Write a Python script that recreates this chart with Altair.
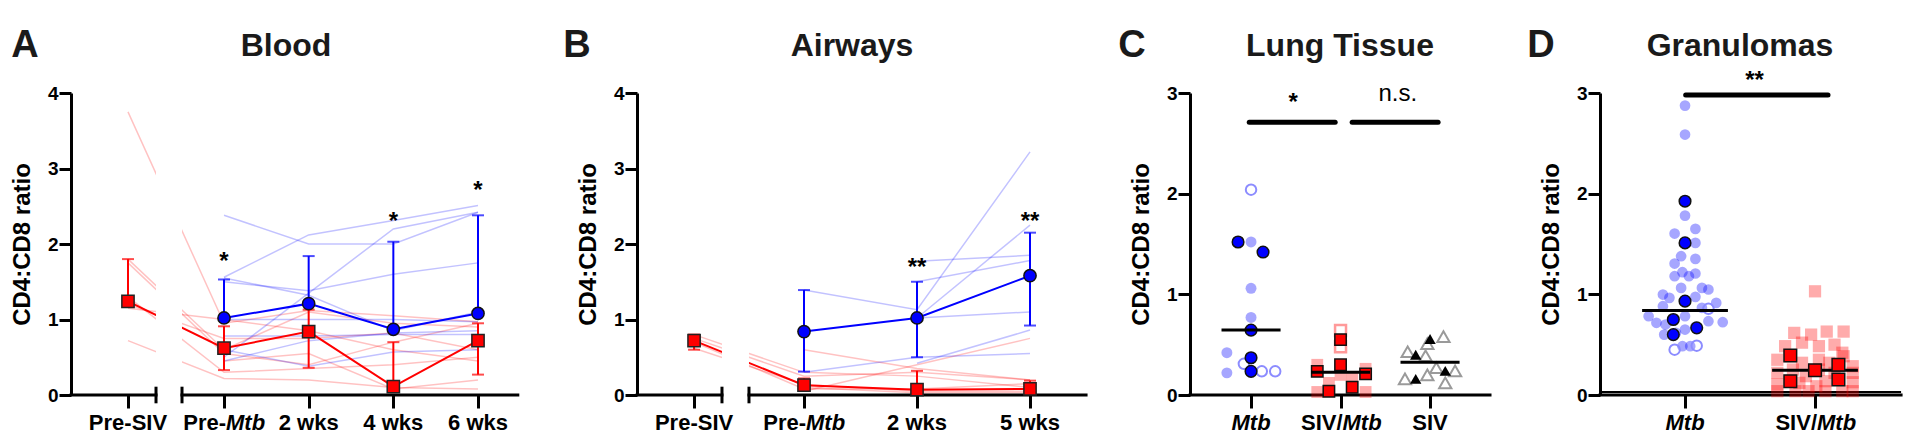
import altair as alt
import pandas as pd

FONT = "Liberation Sans"
BLUE = "#0000ff"
RED = "#ff0000"
PLOT_H = 302

# ---------------- Panel A : Blood ----------------
A_labels_plain = ["Pre-SIV", "Pre-", "2 wks", "4 wks", "6 wks"]
A_labels_ital = ["", "Mtb", "", "", ""]
A_red_ind = [
    [3.75, 0.95, 1.12, 1.05, 0.97],
    [1.80, 0.60, 1.10, 0.95, 0.90],
    [1.75, 0.55, 0.40, 0.70, 0.95],
    [1.20, 0.75, 0.75, 0.82, 0.60],
    [1.15, 1.00, 0.85, 0.60, 0.45],
    [0.72, 0.22, 0.20, 0.10, 0.08],
    [1.30, 0.30, 0.35, 0.40, 0.50],
    [None, 0.45, 0.55, 0.08, 0.20],
]
A_blue_ind = [
    [None, 2.38, 2.00, 2.00, 2.42],
    [None, 1.56, 2.12, 2.31, 2.51],
    [None, 0.50, 1.35, 2.20, 2.42],
    [None, 1.50, 1.38, 1.60, 1.75],
    [None, 1.55, 1.32, 0.85, 1.10],
    [None, 1.00, 1.00, 1.00, 0.97],
    [None, 0.78, 0.78, 0.80, 0.80],
    [None, 0.60, 0.38, 0.57, 0.60],
    [None, 0.45, 0.72, 0.82, 0.85],
]
A_red_mean = [1.24, 0.62, 0.84, 0.11, 0.72]
A_red_lo = [None, 0.33, 0.36, None, 0.27]
A_red_hi = [1.80, 0.91, 1.13, 0.70, 0.95]
A_blue_mean = [None, 1.02, 1.21, 0.87, 1.08]
A_blue_lo = [None, None, None, None, None]
A_blue_hi = [None, 1.53, 1.84, 2.03, 2.38]
A_star_text = ["", "*", "", "*", "*"]
A_star_y = [None, 1.85, None, 2.38, 2.79]

# ---------------- Panel B : Airways ----------------
B_labels_plain = ["Pre-SIV", "Pre-", "2 wks", "5 wks"]
B_labels_ital = ["", "Mtb", "", ""]
B_red_ind = [
    [0.80, 0.30, 0.25, 0.10],
    [0.75, 0.25, 0.30, 0.20],
    [0.62, 0.14, 0.05, 0.05],
    [None, 0.60, 0.35, 0.20],
    [None, 0.05, 0.40, 0.75],
    [None, 0.10, 0.03, 0.03],
    [0.70, 0.08, 0.08, 0.15],
]
B_blue_ind = [
    [None, 1.39, 1.13, 3.22],
    [None, 0.30, 0.50, 0.55],
    [None, None, 1.02, 2.25],
    [None, None, 1.77, 1.85],
    [None, None, 1.50, 1.78],
    [None, None, 1.02, 1.10],
    [None, None, 0.42, 0.86],
]
B_red_mean = [0.72, 0.13, 0.07, 0.08]
B_red_lo = [0.60, None, None, None]
B_red_hi = [0.80, 0.22, 0.32, 0.19]
B_blue_mean = [None, 0.84, 1.02, 1.58]
B_blue_lo = [None, 0.31, 0.50, 0.92]
B_blue_hi = [None, 1.39, 1.50, 2.15]
B_star_text = ["", "", "**", "**"]
B_star_y = [None, None, 1.77, 2.38]

# ---------------- Panel C : Lung Tissue ----------------
C_labels_plain = ["", "SIV/", "SIV"]
C_labels_ital = ["Mtb", "Mtb", ""]
# (category index, horizontal jitter in category steps, value)
C_blue_dark = [(0, -0.145, 1.52), (0, 0.134, 1.42), (0, 0, 0.645), (0, 0, 0.37), (0, 0, 0.235)]
C_blue_light = [(0, 0, 1.52), (0, 0, 1.06), (0, 0, 0.77), (0, -0.27, 0.42), (0, -0.27, 0.22)]
C_blue_open = [(0, 0, 2.04), (0, -0.08, 0.31), (0, 0.12, 0.235), (0, 0.27, 0.235)]
C_red_dark = [(1, 0, 0.55), (1, 0, 0.30), (1, -0.26, 0.235), (1, 0.28, 0.21), (1, 0.13, 0.077), (1, -0.13, 0.037)]
C_red_light = [(1, -0.26, 0.30), (1, -0.26, 0.03), (1, 0.28, 0.03), (1, 0, 0.20), (1, 0.13, 0.17),
               (1, -0.13, 0.12), (1, 0.28, 0.26)]
C_red_open = [(1, 0, 0.64), (1, 0, 0.48)]
C_tri_dark = [(2, 0, 0.556), (2, -0.16, 0.40), (2, 0.17, 0.24), (2, -0.16, 0.16)]
C_tri_open = [(2, 0.15, 0.58), (2, -0.03, 0.51), (2, -0.25, 0.43), (2, -0.05, 0.39), (2, 0.07, 0.27),
              (2, 0.28, 0.24), (2, -0.28, 0.16), (2, -0.03, 0.20), (2, 0.17, 0.12)]
C_medians = [0.645, 0.225, 0.325]
C_sig_x1 = [-0.02, 1.13]
C_sig_x2 = [0.94, 2.09]
C_sig_y = [2.71, 2.71]
C_star_text = ["*"]
C_star_x = [0.47]
C_star_y = [2.97]
C_ns_text = ["n.s."]
C_ns_x = [1.64]
C_ns_y = [2.92]

# ---------------- Panel D : Granulomas ----------------
D_labels_plain = ["", "SIV/"]
D_labels_ital = ["Mtb", "Mtb"]
D_blue_light = [
    (0, 0, 2.875), (0, 0, 2.587), (0, 0, 1.782), (0, 0.08, 1.65), (0, -0.08, 1.604), (0, 0.08, 1.511),
    (0, -0.03, 1.379), (0, 0.08, 1.352), (0, -0.08, 1.306), (0, -0.02, 1.22), (0, 0.08, 1.207),
    (0, -0.08, 1.18), (0, 0.03, 1.18), (0, -0.03, 1.064), (0, 0.13, 1.064), (0, 0.18, 1.048),
    (0, -0.17, 0.998), (0, -0.12, 0.965), (0, 0.08, 0.975), (0, 0.24, 0.915), (0, -0.17, 0.882),
    (0, 0.13, 0.866), (0, -0.28, 0.783), (0, 0.29, 0.723), (0, -0.22, 0.717), (0, -0.15, 0.70),
    (0, 0, 0.783), (0, 0.18, 0.733), (0, 0.08, 0.677), (0, 0, 0.65), (0, -0.07, 0.617),
    (0, -0.16, 0.60), (0, -0.02, 0.485), (0, 0.04, 0.485),
]
D_blue_open = [(0, -0.08, 0.45), (0, 0.09, 0.49), (0, 0.18, 0.856)]
D_blue_dark = [(0, 0, 1.925), (0, 0, 1.511), (0, 0, 0.932), (0, -0.09, 0.75), (0, 0.09, 0.667), (0, -0.09, 0.60)]
D_red_light = [
    (1, 0, 1.03), (1, -0.16, 0.617), (1, -0.03, 0.60), (1, 0.09, 0.63), (1, 0.22, 0.63),
    (1, -0.23, 0.485), (1, -0.10, 0.52), (1, 0.03, 0.485), (1, 0.15, 0.50), (1, 0.21, 0.42),
    (1, -0.29, 0.35), (1, -0.19, 0.385), (1, -0.10, 0.32), (1, 0.03, 0.35), (1, 0.11, 0.32),
    (1, 0.22, 0.385), (1, 0.29, 0.286), (1, -0.29, 0.22), (1, -0.17, 0.253), (1, -0.07, 0.187),
    (1, 0.03, 0.253), (1, 0.15, 0.22), (1, 0.29, 0.22), (1, -0.29, 0.104), (1, -0.12, 0.121),
    (1, 0.01, 0.087), (1, 0.08, 0.137), (1, 0.29, 0.127), (1, -0.29, 0.038), (1, -0.15, 0.038),
    (1, -0.05, 0.038), (1, 0.08, 0.038), (1, 0.21, 0.038), (1, 0.29, 0.038),
]
D_red_dark = [(1, -0.19, 0.392), (1, 0, 0.246), (1, 0.18, 0.30), (1, -0.19, 0.137), (1, 0.18, 0.154)]
D_medians = [0.84, 0.245]
D_sig_x1 = [0.005]
D_sig_x2 = [1.10]
D_sig_y = [2.98]
D_star_text = ["**"]
D_star_x = [0.535]
D_star_y = [3.19]

# ---------------- layout (positions in category steps, pixels per step) ----------------
A_LAY = dict(xpos=[-1.134, 0, 1, 2, 3], step=84.67, xmin=-1.807, brk=(-0.803, -0.496), xend=3.47,
             width=462, title="Blood", title_px=215, letter="A", letter_px=-46)
B_LAY = dict(xpos=[-0.973, 0, 1, 2], step=113.0, xmin=-1.478, brk=(-0.726, -0.487), xend=2.496,
             width=449, title="Airways", title_px=215, letter="B", letter_px=-60)
C_LAY = dict(xpos=[0, 1, 2], step=89.5, xmin=-0.682, xend=2.670, width=306,
             title="Lung Tissue", title_px=150, letter="C", letter_px=-58)
D_LAY = dict(xpos=[0, 1], step=130.0, xmin=-0.654, xend=1.662, width=301,
             title="Granulomas", title_px=140, letter="D", letter_px=-59)
LABEL_Y = PLOT_H + 35
HALF_MED = 0.33


def y_axis(vals):
    return alt.Axis(values=vals, domain=True, domainColor="black", domainWidth=3,
                    ticks=True, tickSize=12, tickWidth=3, tickColor="black",
                    labels=True, labelFont=FONT, labelFontSize=19, labelFontWeight="bold",
                    labelColor="black", labelPadding=1, labelFlush=False, labelOverlap=False,
                    grid=False, title="CD4:CD8 ratio", titleFont=FONT, titleFontSize=24,
                    titleFontWeight="bold", titleColor="black", titleX=-42, titleY=PLOT_H / 2,
                    titleAngle=270, titleAlign="center", titleBaseline="alphabetic")


def x_axis(vals):
    return alt.Axis(values=vals, labels=False, domain=False, ticks=True, tickSize=13,
                    tickWidth=3, tickColor="black", grid=False, title=None)


def make_encoders(lay, ymax, yvals):
    xs = alt.Scale(domain=[lay["xmin"], lay["xmin"] + lay["width"] / lay["step"]], nice=False, zero=False)
    ys = alt.Scale(domain=[0, ymax], nice=False, zero=False)
    xax = x_axis(lay["xpos"])
    yax = y_axis(yvals)

    def X(f):
        return alt.X(f, type="quantitative", scale=xs, axis=xax)

    def Y(f):
        return alt.Y(f, type="quantitative", scale=ys, axis=yax)
    return X, Y


def label_layers(pos, plain, ital, X):
    layers = []
    base = dict(font=FONT, fontSize=22, fontWeight="bold", color="black", baseline="alphabetic")
    rc = [{"x": p, "t": a} for p, a, b in zip(pos, plain, ital) if a and not b]
    ri = [{"x": p, "t": b} for p, a, b in zip(pos, plain, ital) if b and not a]
    rm = [{"x": p, "a": a, "b": b} for p, a, b in zip(pos, plain, ital) if a and b]
    if rc:
        layers.append(alt.Chart(pd.DataFrame(rc)).mark_text(align="center", **base)
                      .encode(x=X("x"), y=alt.value(LABEL_Y), text="t:N"))
    if ri:
        layers.append(alt.Chart(pd.DataFrame(ri)).mark_text(align="center", fontStyle="italic", **base)
                      .encode(x=X("x"), y=alt.value(LABEL_Y), text="t:N"))
    if rm:
        df = pd.DataFrame(rm)
        layers.append(alt.Chart(df).mark_text(align="right", dx=2, **base)
                      .encode(x=X("x"), y=alt.value(LABEL_Y), text="a:N"))
        layers.append(alt.Chart(df).mark_text(align="left", dx=2, fontStyle="italic", **base)
                      .encode(x=X("x"), y=alt.value(LABEL_Y), text="b:N"))
    return layers


def deco_layers(lay):
    t = alt.Chart(pd.DataFrame({"t": [lay["title"]]})).mark_text(
        font=FONT, fontSize=32, fontWeight="bold", color="#1a1a1a", align="center",
        baseline="alphabetic").encode(x=alt.value(lay["title_px"]), y=alt.value(-37), text="t:N")
    l = alt.Chart(pd.DataFrame({"t": [lay["letter"]]})).mark_text(
        font=FONT, fontSize=38, fontWeight="bold", color="#1a1a1a", align="center",
        baseline="alphabetic").encode(x=alt.value(lay["letter_px"]), y=alt.value(-36), text="t:N")
    return [t, l]


def star_layer(xs_, ys_, texts, X, Y):
    rows = [{"x": x, "y": y, "t": t} for x, y, t in zip(xs_, ys_, texts) if t and y is not None]
    return alt.Chart(pd.DataFrame(rows)).mark_text(
        font=FONT, fontSize=24, fontWeight="bold", color="black", align="center",
        baseline="alphabetic", dy=14).encode(x=X("x"), y=Y("y"), text="t:N")


def line_panel(lay, labels_plain, labels_ital, red_ind, blue_ind, red_mean, red_lo, red_hi,
               blue_mean, blue_lo, blue_hi, star_text, star_y):
    X, Y = make_encoders(lay, 4, [0, 1, 2, 3, 4])
    xpos = lay["xpos"]
    layers = []
    # individual animals
    for grp, col, inds in (("r", RED, red_ind), ("b", BLUE, blue_ind)):
        rows = []
        for i, vals in enumerate(inds):
            for j, v in enumerate(vals):
                if v is not None:
                    rows.append({"id": f"{grp}{i}", "x": xpos[j], "y": v, "o": j})
        layers.append(alt.Chart(pd.DataFrame(rows)).mark_line(color=col, opacity=0.24, strokeWidth=1.5)
                      .encode(x=X("x"), y=Y("y"), detail="id:N", order="o:Q"))
    # group means
    for col, means in ((RED, red_mean), (BLUE, blue_mean)):
        df = pd.DataFrame([{"x": xpos[j], "y": m, "o": j} for j, m in enumerate(means) if m is not None])
        layers.append(alt.Chart(df).mark_line(color=col, strokeWidth=2)
                      .encode(x=X("x"), y=Y("y"), order="o:Q"))
    # axis break mask
    mask = pd.DataFrame({"x": [lay["brk"][0]], "x2": [lay["brk"][1]], "y": [-0.07], "y2": [4.1]})
    layers.append(alt.Chart(mask).mark_rect(color="white")
                  .encode(x=X("x"), x2="x2", y=Y("y"), y2="y2"))
    # broken x axis line
    seg = pd.DataFrame({"x": [lay["xmin"], lay["brk"][1]], "x2": [lay["brk"][0], lay["xend"]], "y": [0, 0]})
    layers.append(alt.Chart(seg).mark_rule(color="black", strokeWidth=3, strokeCap="square")
                  .encode(x=X("x"), x2="x2", y=Y("y")))
    caps = pd.DataFrame({"x": [lay["brk"][0], lay["brk"][1]], "y": [-0.11, -0.11], "y2": [0.11, 0.11]})
    layers.append(alt.Chart(caps).mark_rule(color="black", strokeWidth=3)
                  .encode(x=X("x"), y=Y("y"), y2="y2"))
    # error bars (blue first, red on top)
    for col, means, lo, hi in ((BLUE, blue_mean, blue_lo, blue_hi), (RED, red_mean, red_lo, red_hi)):
        bars, ends = [], []
        for j, m in enumerate(means):
            if m is None:
                continue
            l = lo[j] if lo[j] is not None else m
            h = hi[j] if hi[j] is not None else m
            bars.append({"x": xpos[j], "lo": l, "hi": h})
            if hi[j] is not None:
                ends.append({"x": xpos[j], "y": h})
            if lo[j] is not None:
                ends.append({"x": xpos[j], "y": l})
        layers.append(alt.Chart(pd.DataFrame(bars)).mark_rule(color=col, strokeWidth=2)
                      .encode(x=X("x"), y=Y("lo"), y2="hi"))
        layers.append(alt.Chart(pd.DataFrame(ends)).mark_tick(color=col, orient="horizontal", size=12,
                                                                thickness=2)
                      .encode(x=X("x"), y=Y("y")))
    # mean markers
    df = pd.DataFrame([{"x": xpos[j], "y": m} for j, m in enumerate(blue_mean) if m is not None])
    layers.append(alt.Chart(df).mark_point(shape="circle", filled=True, fill=BLUE, stroke="#111",
                                           strokeWidth=1.5, size=150, opacity=1)
                  .encode(x=X("x"), y=Y("y")))
    df = pd.DataFrame([{"x": xpos[j], "y": m} for j, m in enumerate(red_mean) if m is not None])
    layers.append(alt.Chart(df).mark_point(shape="square", filled=True, fill=RED, stroke="#222",
                                           strokeWidth=1.5, size=150, opacity=1)
                  .encode(x=X("x"), y=Y("y")))
    layers.append(star_layer(xpos, star_y, star_text, X, Y))
    layers += label_layers(xpos, labels_plain, labels_ital, X)
    layers += deco_layers(lay)
    return alt.layer(*layers).properties(width=lay["width"], height=PLOT_H)


def pts_df(pts):
    return pd.DataFrame([{"x": c + j, "y": v} for c, j, v in pts])


def scatter_panel(lay, labels_plain, labels_ital, point_sets, medians, sig_x1, sig_x2, sig_y,
                  star_x, star_y, star_text, ns_x=None, ns_y=None, ns_text=None, double_axis=False):
    X, Y = make_encoders(lay, 3, [0, 1, 2, 3])
    xpos = lay["xpos"]
    layers = []
    ax = pd.DataFrame({"x": [lay["xmin"]], "x2": [lay["xend"]], "y": [0]})
    layers.append(alt.Chart(ax).mark_rule(color="black", strokeWidth=3, strokeCap="square")
                  .encode(x=X("x"), x2="x2", y=Y("y")))
    if double_axis:
        layers.append(alt.Chart(ax).mark_rule(color="black", strokeWidth=2, yOffset=-3)
                      .encode(x=X("x"), x2="x2", y=Y("y")))
    for pts, style in point_sets[:-1]:
        layers.append(alt.Chart(pts_df(pts)).mark_point(**style).encode(x=X("x"), y=Y("y")))
    med = pd.DataFrame({"x": [p - HALF_MED for p in xpos[:len(medians)]],
                        "x2": [p + HALF_MED for p in xpos[:len(medians)]], "y": medians})
    layers.append(alt.Chart(med).mark_rule(color="black", strokeWidth=3)
                  .encode(x=X("x"), x2="x2", y=Y("y")))
    for pts, style in point_sets[-1:]:
        layers.append(alt.Chart(pts_df(pts)).mark_point(**style).encode(x=X("x"), y=Y("y")))
    sig = pd.DataFrame({"x": sig_x1, "x2": sig_x2, "y": sig_y})
    layers.append(alt.Chart(sig).mark_rule(color="black", strokeWidth=5, strokeCap="round")
                  .encode(x=X("x"), x2="x2", y=Y("y")))
    layers.append(star_layer(star_x, star_y, star_text, X, Y))
    if ns_text:
        layers.append(alt.Chart(pd.DataFrame({"x": ns_x, "y": ns_y, "t": ns_text})).mark_text(
            font=FONT, fontSize=24, color="black", align="center", baseline="alphabetic")
            .encode(x=X("x"), y=Y("y"), text="t:N"))
    layers += label_layers(xpos, labels_plain, labels_ital, X)
    layers += deco_layers(lay)
    return alt.layer(*layers).properties(width=lay["width"], height=PLOT_H)


S_BLUE_LIGHT = dict(shape="circle", filled=True, fill=BLUE, opacity=0.35, strokeWidth=0, size=120)
S_BLUE_OPEN = dict(shape="circle", filled=False, stroke="#8c8cff", strokeWidth=2, size=110, opacity=1)
S_BLUE_DARK = dict(shape="circle", filled=True, fill=BLUE, stroke="#111", strokeWidth=1.5, size=135, opacity=1)
S_RED_LIGHT = dict(shape="square", filled=True, fill=RED, opacity=0.33, strokeWidth=0, size=140)
S_RED_OPEN = dict(shape="square", filled=False, stroke="#ff9a9a", strokeWidth=2.5, size=120, opacity=1)
S_RED_DARK = dict(shape="square", filled=True, fill=RED, stroke="#111", strokeWidth=1.5, size=130, opacity=1)
S_TRI_OPEN = dict(shape="triangle-up", filled=False, stroke="#9a9a9a", strokeWidth=2, size=150, opacity=1)
S_TRI_DARK = dict(shape="triangle-up", filled=True, fill="black", strokeWidth=0, size=130, opacity=1)

panel_a = line_panel(A_LAY, A_labels_plain, A_labels_ital, A_red_ind, A_blue_ind, A_red_mean, A_red_lo,
                     A_red_hi, A_blue_mean, A_blue_lo, A_blue_hi, A_star_text, A_star_y)
panel_b = line_panel(B_LAY, B_labels_plain, B_labels_ital, B_red_ind, B_blue_ind, B_red_mean, B_red_lo,
                     B_red_hi, B_blue_mean, B_blue_lo, B_blue_hi, B_star_text, B_star_y)
panel_c = scatter_panel(
    C_LAY, C_labels_plain, C_labels_ital,
    [(C_blue_light, S_BLUE_LIGHT), (C_blue_open, S_BLUE_OPEN), (C_red_light, S_RED_LIGHT),
     (C_red_open, S_RED_OPEN), (C_tri_open, S_TRI_OPEN), (C_blue_dark, S_BLUE_DARK),
     (C_red_dark, S_RED_DARK), (C_tri_dark, S_TRI_DARK)],
    C_medians, C_sig_x1, C_sig_x2, C_sig_y, C_star_x, C_star_y, C_star_text,
    C_ns_x, C_ns_y, C_ns_text)
panel_d = scatter_panel(
    D_LAY, D_labels_plain, D_labels_ital,
    [(D_blue_light, dict(S_BLUE_LIGHT, size=115)), (D_blue_open, S_BLUE_OPEN),
     (D_red_light, dict(S_RED_LIGHT, size=150)), (D_blue_dark, S_BLUE_DARK),
     (D_red_dark, dict(S_RED_DARK, size=160))],
    D_medians, D_sig_x1, D_sig_x2, D_sig_y, D_star_x, D_star_y, D_star_text, double_axis=True)

chart = alt.hconcat(panel_a, panel_b, panel_c, panel_d, spacing=104, bounds="flush").properties(
    padding={"left": 2, "top": 19, "right": 0, "bottom": 0}
).configure_view(stroke=None)

chart.save("out.html", embed_options={"renderer": "svg", "actions": False})
